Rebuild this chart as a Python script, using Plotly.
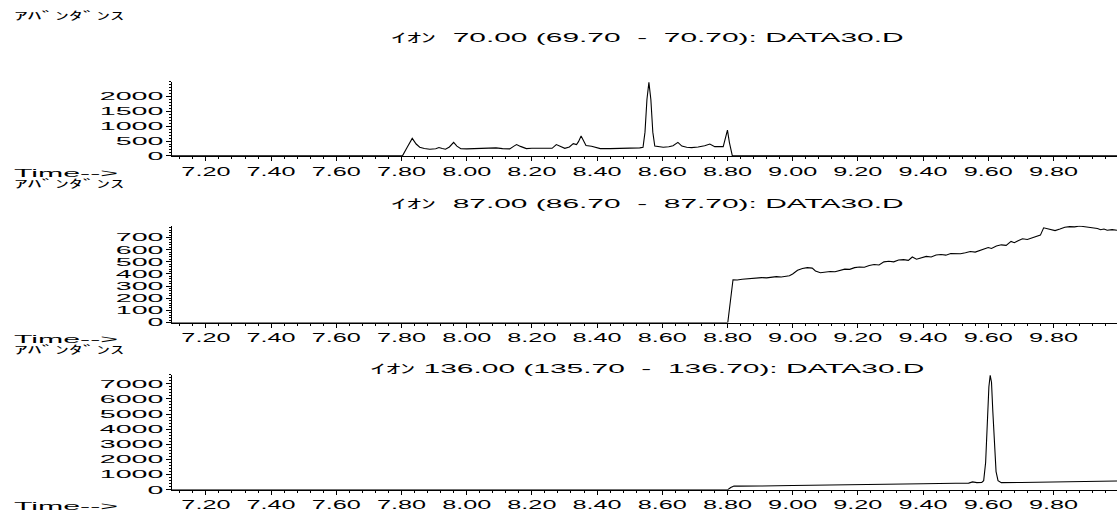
import plotly.graph_objects as go

# ---------------- data ----------------
t70 = [7.096, 7.803, 7.818, 7.833, 7.845, 7.856, 7.870, 7.887, 7.905, 7.915, 7.925, 7.935,
       7.947, 7.960, 7.970, 7.982, 8.000, 8.020, 8.040, 8.060, 8.075, 8.090, 8.110, 8.132,
       8.145, 8.153, 8.165, 8.183, 8.200, 8.215, 8.234, 8.250, 8.262, 8.275, 8.287, 8.301,
       8.315, 8.327, 8.337, 8.343, 8.351, 8.358, 8.366, 8.383, 8.395, 8.410, 8.440, 8.470,
       8.500, 8.531, 8.541, 8.547, 8.553, 8.559, 8.565, 8.571, 8.577, 8.590, 8.603, 8.620,
       8.633, 8.648, 8.660, 8.675, 8.690, 8.710, 8.730, 8.746, 8.761, 8.787, 8.793, 8.800,
       8.806, 8.815, 9.995]
a70 = [0, 0, 300, 590, 400, 290, 250, 225, 240, 280, 250, 225,
       300, 456, 330, 240, 235, 240, 255, 250, 265, 270, 245, 235,
       330, 380, 320, 245, 255, 260, 270, 260, 255, 380, 330, 255,
       300, 413, 380, 480, 667, 500, 350, 324, 280, 244, 245, 250,
       260, 270, 290, 800, 1900, 2480, 1900, 800, 333, 300, 289, 310,
       344, 456, 330, 290, 278, 300, 340, 400, 311, 311, 550, 867,
       450, 0, 0]

t87 = [7.096, 8.801, 8.817, 8.830, 8.845, 8.860, 8.875, 8.890, 8.905, 8.920, 8.935, 8.950,
       8.965, 8.980, 8.990, 9.000, 9.015, 9.030, 9.045, 9.060, 9.070, 9.085, 9.100, 9.115,
       9.130, 9.145, 9.160, 9.175, 9.190, 9.205, 9.220, 9.235, 9.250, 9.265, 9.280, 9.295,
       9.310, 9.325, 9.340, 9.355, 9.367, 9.380, 9.395, 9.410, 9.425, 9.440, 9.455, 9.470,
       9.485, 9.500, 9.515, 9.530, 9.545, 9.560, 9.575, 9.590, 9.600, 9.610, 9.625, 9.640,
       9.655, 9.670, 9.680, 9.690, 9.705, 9.720, 9.735, 9.750, 9.760, 9.770, 9.782, 9.795,
       9.805, 9.820, 9.835, 9.850, 9.865, 9.880, 9.895, 9.910, 9.925, 9.935, 9.945, 9.955,
       9.965, 9.980, 9.995]
a87 = [0, 0, 352, 350, 356, 360, 358, 366, 370, 368, 376, 378,
       375, 380, 385, 400, 430, 445, 452, 448, 425, 410, 415, 420,
       418, 428, 440, 438, 452, 458, 455, 470, 478, 474, 500, 505,
       500, 515, 518, 512, 540, 522, 535, 545, 540, 556, 560, 555,
       568, 570, 566, 575, 585, 580, 595, 605, 618, 610, 630, 640,
       636, 668, 658, 672, 690, 684, 700, 712, 720, 780, 772, 760,
       757, 770, 785, 790, 788, 795, 790, 785, 782, 775, 765, 770,
       760, 765, 760]

t136 = [7.096, 8.801, 8.810, 8.820, 8.835, 8.850, 8.900, 9.000, 9.100, 9.200, 9.220, 9.235,
        9.300, 9.400, 9.500, 9.540, 9.552, 9.565, 9.580, 9.586, 9.592, 9.597, 9.602, 9.606,
        9.610, 9.614, 9.619, 9.624, 9.630, 9.640, 9.700, 9.800, 9.900, 9.995]
a136 = [0, 0, 150, 250, 240, 235, 250, 280, 320, 350, 370, 350,
        370, 400, 430, 440, 520, 470, 480, 600, 1800, 4200, 6800, 7550,
        7100, 5200, 2800, 1200, 600, 470, 480, 520, 560, 580]

x_tickvals = [7.2, 7.4, 7.6, 7.8, 8.0, 8.2, 8.4, 8.6, 8.8, 9.0, 9.2, 9.4, 9.6, 9.8]
x_ticktext = ["7.20", "7.40", "7.60", "7.80", "8.00", "8.20", "8.40", "8.60", "8.80",
              "9.00", "9.20", "9.40", "9.60", "9.80"]
y1_ticks = [0, 500, 1000, 1500, 2000]
y2_ticks = [0, 100, 200, 300, 400, 500, 600, 700]
y3_ticks = [0, 1000, 2000, 3000, 4000, 5000, 6000, 7000]

titles = ["ｲｵﾝ  70.00 (69.70  -  70.70): DATA30.D",
          "ｲｵﾝ  87.00 (86.70  -  87.70): DATA30.D",
          "ｲｵﾝ 136.00 (135.70  -  136.70): DATA30.D"]
abund_label = "ｱﾊﾞﾝﾀﾞﾝｽ"
time_label = "Time-->"

# ---------------- layout ----------------
W, H = 1117, 519
FONT = "Liberation Sans, Arial, Noto Sans CJK JP, sans-serif"

def py(p):
    return 1 - p / H

xr = [7.096, 9.995]
panels = [
    dict(t=t70, a=a70, yr=[0, 2500], ticks=y1_ticks, minor=100, top=82.7, bot=157.7),
    dict(t=t87, a=a87, yr=[0, 798], ticks=y2_ticks, minor=20, top=228.3, bot=326.3),
    dict(t=t136, a=a136, yr=[0, 7600], ticks=y3_ticks, minor=200, top=379.0, bot=495.5),
]

fig = go.Figure()
layout = dict(width=W, height=H, margin=dict(l=0, r=0, t=0, b=0),
              paper_bgcolor="white", plot_bgcolor="white", showlegend=False,
              font=dict(family=FONT, color="black"))
for i, p in enumerate(panels):
    n = i + 1
    xa = "x" if n == 1 else f"x{n}"
    ya = "y" if n == 1 else f"y{n}"
    fig.add_trace(go.Scatter(x=p["t"], y=p["a"], mode="lines", xaxis=xa, yaxis=ya,
                             line=dict(color="black", width=1.1), hoverinfo="skip"))
    layout[f"xaxis{'' if n == 1 else n}"] = dict(
        domain=[172 / W, 1], range=xr, anchor=ya, showline=True, linecolor="black",
        linewidth=1.3, showgrid=False, zeroline=False, ticks="outside", ticklen=4,
        tickwidth=1, tickcolor="black", tickmode="array", tickvals=x_tickvals,
        ticktext=x_ticktext, tickfont=dict(size=12, family=FONT, color="black"),
        minor=dict(tickmode="linear", tick0=7.2, dtick=0.04, ticks="outside", ticklen=2,
                   tickcolor="black", tickwidth=1, showgrid=False),
        fixedrange=True)
    layout[f"yaxis{'' if n == 1 else n}"] = dict(
        domain=[py(p["bot"]), py(p["top"])], range=p["yr"], anchor=xa, showline=True,
        linecolor="black", linewidth=1.3, showgrid=False, zeroline=False, ticks="outside",
        ticklen=5, tickwidth=1, tickcolor="black", tickmode="array", tickvals=p["ticks"],
        ticktext=[str(v) for v in p["ticks"]],
        tickfont=dict(size=11, family=FONT, color="black"),
        minor=dict(tickmode="linear", tick0=0, dtick=p["minor"], ticks="outside", ticklen=2,
                   tickcolor="black", tickwidth=1, showgrid=False),
        fixedrange=True)

ann = []
title_y = [38, 206, 373]
abund_y = [16, 186, 354]
time_y = [175, 343, 512]
for i in range(3):
    ann.append(dict(text=titles[i], x=647 / W, y=py(title_y[i]), xref="paper", yref="paper",
                    xanchor="center", yanchor="middle", showarrow=False,
                    font=dict(size=13, family=FONT, color="black")))
    ann.append(dict(text=abund_label, x=12 / W, y=py(abund_y[i]), xref="paper", yref="paper",
                    xanchor="left", yanchor="middle", showarrow=False, align="left",
                    font=dict(size=11, family=FONT, color="black")))
    ann.append(dict(text=time_label, x=12 / W, y=py(time_y[i]), xref="paper", yref="paper",
                    xanchor="left", yanchor="middle", showarrow=False, align="left",
                    font=dict(size=11, family=FONT, color="black")))
layout["annotations"] = ann
fig.update_layout(**layout)

js = """
document.body.style.margin = '0';
var gd = document.getElementById('{plot_id}');
function fit(t, f) {
  var w = t.getComputedTextLength();
  if (w > 0) {
    t.setAttribute('textLength', (w * f).toFixed(1));
    t.setAttribute('lengthAdjust', 'spacingAndGlyphs');
  }
}
gd.querySelectorAll('g.xaxislayer-above text').forEach(function(t){ fit(t, 2.1); });
gd.querySelectorAll('g.yaxislayer-above text').forEach(function(t){ fit(t, 2.6); });
gd.querySelectorAll('g.annotation text').forEach(function(t){
  var s = t.textContent;
  if (s.indexOf('Time') === 0) fit(t, 2.75);
  else if (s.indexOf('DATA') >= 0) fit(t, 2.3);
  else fit(t, 2.5);
});
"""
fig.write_html("out.html", include_plotlyjs=True, post_script=js,
               config=dict(displayModeBar=False, staticPlot=True))
